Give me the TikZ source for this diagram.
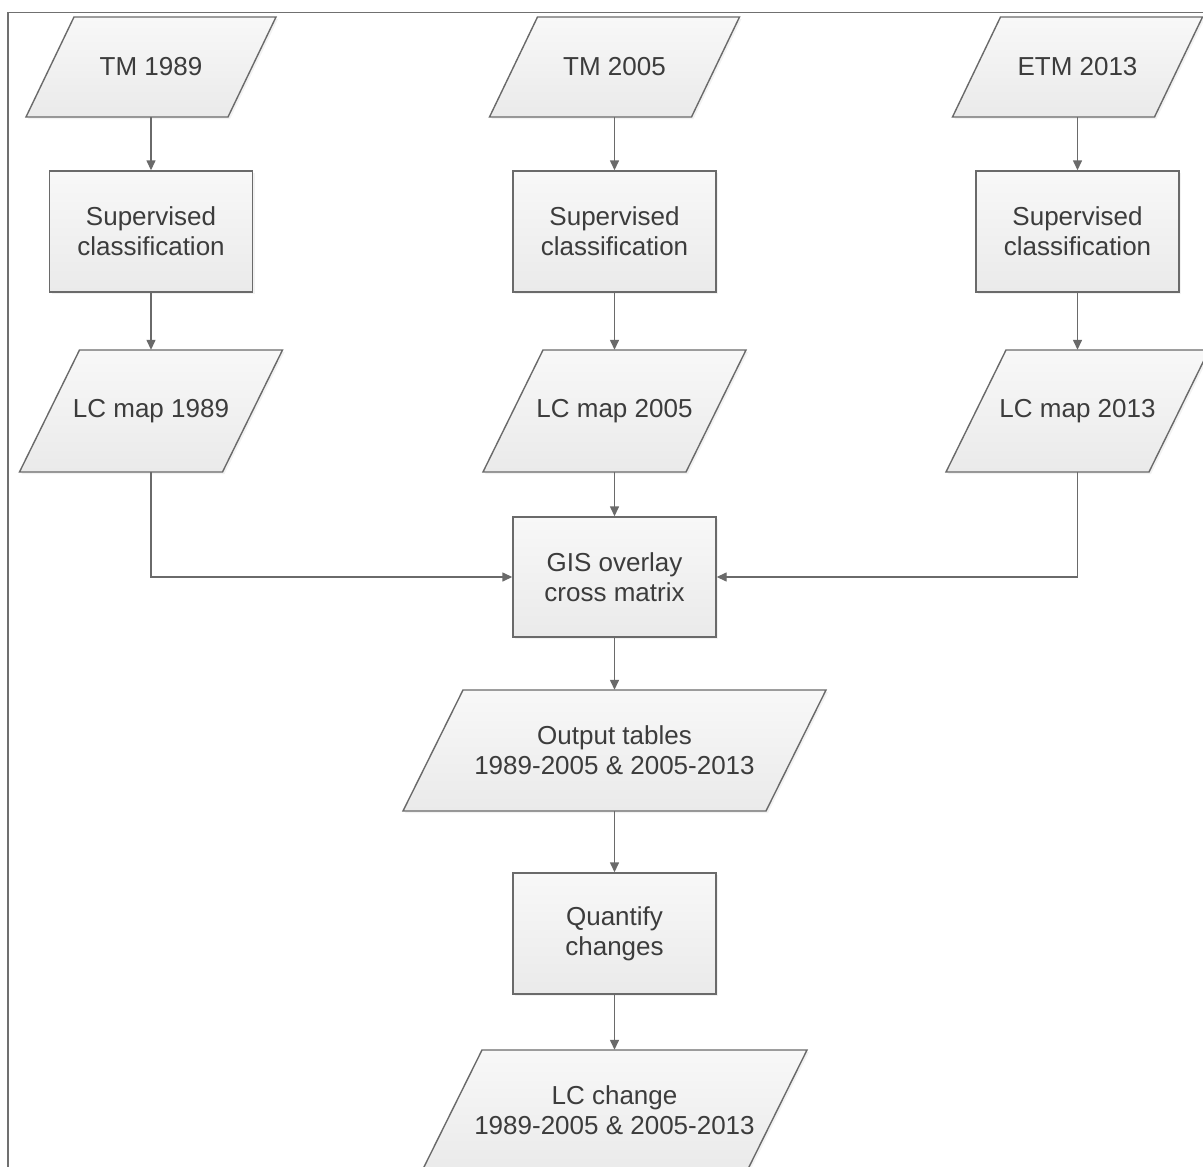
\documentclass[tikz,border=0pt]{standalone}
\usepackage{fontspec}
\setmainfont{Liberation Sans}
\usetikzlibrary{arrows.meta,shadows}
\definecolor{lineg}{HTML}{6A6A6A}
\definecolor{textg}{HTML}{3C3C3C}
\definecolor{ftop}{HTML}{F8F8F8}
\definecolor{fbot}{HTML}{EAEAEA}
\definecolor{frameg}{HTML}{707070}
\tikzset{
  shapefill/.style={draw=lineg, line width=1.4pt, top color=ftop, bottom color=fbot,
    drop shadow={opacity=0.10, shadow xshift=2pt, shadow yshift=-2pt}},
  txt/.style={inner sep=0pt, text=textg, align=center,
    font=\fontsize{26}{30}\selectfont},
  boxnode/.style={txt, shapefill, minimum width=203pt, minimum height=121pt},
  conn/.style={draw=lineg, line width=1.4pt, -{Triangle[length=10pt,width=9pt]}},
  framestyle/.style={draw=frameg, line width=1.6pt}
}
% #1 name, #2 cx, #3 cy, #4 side width, #5 height, #6 slant, #7 text
\newcommand\paranode[7]{%
  \path[shapefill] ({#2-#4/2+#6/2},{#3-#5/2}) -- ({#2+#4/2+#6/2},{#3-#5/2})
     -- ({#2+#4/2-#6/2},{#3+#5/2}) -- ({#2-#4/2-#6/2},{#3+#5/2}) -- cycle;
  \node[txt, minimum width=#4pt, minimum height=#5pt] (#1) at (#2,#3) {#7};
}
\begin{document}
\begin{tikzpicture}[x=1pt,y=-1pt]
\useasboundingbox (0,0) rectangle (1203,1167);
\clip (0,0) rectangle (1203,1167);
\fill[white] (0,0) rectangle (1203,1167);
\draw[framestyle] (1215,12.5) -- (8,12.5) -- (8,1180);

% row 1: inputs
\paranode{tm89}{151}{67}{202}{100}{48}{TM 1989}
\paranode{tm05}{614.5}{67}{202}{100}{48}{TM 2005}
\paranode{etm13}{1077.5}{67}{202}{100}{48}{ETM 2013}

% row 2: classification
\node[boxnode] (sc89) at (151,231.5) {Supervised\\classification};
\node[boxnode] (sc05) at (614.5,231.5) {Supervised\\classification};
\node[boxnode] (sc13) at (1077.5,231.5) {Supervised\\classification};

% row 3: LC maps
\paranode{lc89}{151}{411}{203}{122}{60}{LC map 1989}
\paranode{lc05}{614.5}{411}{203}{122}{60}{LC map 2005}
\paranode{lc13}{1077.5}{411}{203}{122}{60}{LC map 2013}

% overlay
\node[boxnode, minimum height=120pt] (gis) at (614.5,577) {GIS overlay\\cross matrix};

% output tables
\paranode{out}{614.5}{750.5}{363}{121}{60}{Output tables\\1989-2005 \& 2005-2013}

% quantify
\node[boxnode] (quant) at (614.5,933.5) {Quantify\\changes};

% LC change
\paranode{lcc}{614.5}{1110.5}{325}{121}{60}{LC change\\1989-2005 \& 2005-2013}

% connectors
\draw[conn] (tm89) -- (sc89);
\draw[conn] (tm05) -- (sc05);
\draw[conn] (etm13) -- (sc13);
\draw[conn] (sc89) -- (lc89);
\draw[conn] (sc05) -- (lc05);
\draw[conn] (sc13) -- (lc13);
\draw[conn] (lc05) -- (gis);
\draw[conn] (lc89.south) |- (gis.west);
\draw[conn] (lc13.south) |- (gis.east);
\draw[conn] (gis) -- (out);
\draw[conn] (out) -- (quant);
\draw[conn] (quant) -- (lcc);
\end{tikzpicture}
\end{document}
